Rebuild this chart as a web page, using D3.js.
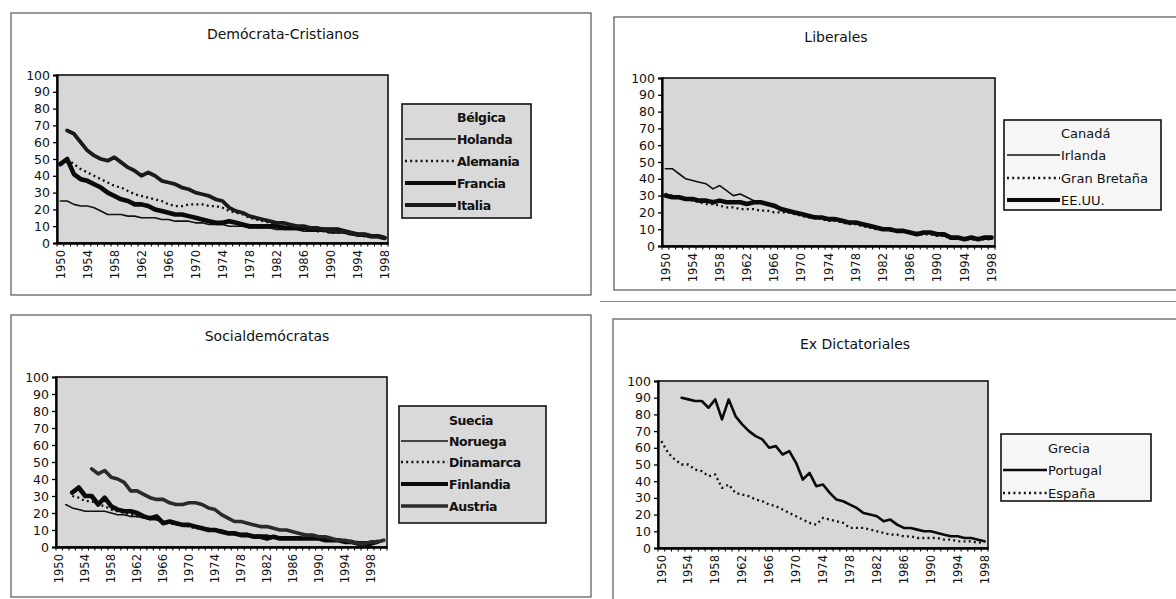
<!DOCTYPE html>
<html><head><meta charset="utf-8">
<script src="https://cdn.jsdelivr.net/npm/d3@7"></script>
<style>
body{margin:0;background:#fff}
svg{display:block}
text{font-family:"DejaVu Sans",sans-serif;fill:#111}
</style>
</head><body>
<svg id="c" width="1176" height="599"></svg>
<script>
// ---------- categories ----------
const years49 = [1950,1951,1952,1953,1954,1955,1956,1957,1958,1959,1960,1961,1962,1963,1964,1965,1966,1967,1968,1969,1970,1971,1972,1973,1974,1975,1976,1977,1978,1979,1980,1981,1982,1983,1984,1985,1986,1987,1988,1989,1990,1991,1992,1993,1994,1995,1996,1997,1998];
const years51 = [1950,1951,1952,1953,1954,1955,1956,1957,1958,1959,1960,1961,1962,1963,1964,1965,1966,1967,1968,1969,1970,1971,1972,1973,1974,1975,1976,1977,1978,1979,1980,1981,1982,1983,1984,1985,1986,1987,1988,1989,1990,1991,1992,1993,1994,1995,1996,1997,1998,1999,2000];
const yearLabels = [1950,1954,1958,1962,1966,1970,1974,1978,1982,1986,1990,1994,1998];
const yTicks = [0,10,20,30,40,50,60,70,80,90,100];

// ---------- Demócrata-Cristianos ----------
const holanda  = [25,25,23,22,22,21,19,17,17,17,16,16,15,15,15,14,14,13,13,13,12,12,11,11,11,10,10,10,9,9,9,9,8,8,8,8,7,7,7,7,6,6,6,5,5,4,4,4,3];
const alemania = [null,50,47,44,42,40,38,36,34,33,31,29,28,27,26,25,23,22,22,23,23,23,22,22,21,19,18,17,15,14,13,12,11,10,9,9,8,8,7,7,6,6,6,5,5,4,4,4,3];
const francia  = [47,50,41,38,37,35,33,30,28,26,25,23,23,22,20,19,18,17,17,16,15,14,13,12,12,13,12,11,10,10,10,10,10,9,9,9,9,8,8,8,8,8,7,6,5,5,4,4,3];
const italia   = [null,67,65,60,55,52,50,49,51,48,45,43,40,42,40,37,36,35,33,32,30,29,28,26,25,21,19,18,16,15,14,13,12,12,11,10,10,9,9,8,8,7,7,6,5,5,4,4,3];

// ---------- Liberales ----------
const irlanda     = [46,46,43,40,39,38,37,34,36,33,30,31,29,27,26,25,24,22,21,20,19,18,18,17,16,16,15,14,14,13,12,11,10,10,9,9,8,8,8,8,7,6,5,5,4,5,4,5,4];
const granBretana = [31,30,29,28,27,26,25,25,24,23,23,22,22,22,21,21,20,20,20,19,18,17,17,16,15,15,14,13,13,12,11,10,10,9,9,8,8,7,7,7,6,6,5,5,4,4,4,4,4];
const eeuu        = [30,29,29,28,28,27,27,26,27,26,26,26,25,26,26,25,24,22,21,20,19,18,17,17,16,16,15,14,14,13,12,11,10,10,9,9,8,7,8,8,7,7,5,5,4,5,4,5,5];

// ---------- Socialdemócratas ----------
const noruega   = [null,25,23,22,21,21,21,21,20,19,19,18,18,17,16,16,15,14,14,13,13,12,11,11,10,10,9,9,8,8,7,7,7,6,6,6,6,6,5,5,5,5,4,4,4,3,3,3,3,3,null];
const dinamarca = [null,null,30,29,27,27,25,24,22,21,20,19,18,18,17,16,15,14,13,13,12,11,11,10,10,9,8,8,7,7,6,6,6,6,5,5,5,5,5,5,5,4,4,4,3,3,3,2,2,3,null];
const finlandia = [null,null,32,35,30,30,25,29,24,22,21,21,20,18,17,18,14,15,14,13,13,12,11,10,10,9,8,8,7,7,6,6,5,6,5,5,5,5,5,5,5,4,4,4,3,3,2,2,2,3,null];
const austria   = [null,null,null,null,null,46,43,45,41,40,38,33,33,31,29,28,28,26,25,25,26,26,25,23,22,19,17,15,15,14,13,12,12,11,10,10,9,8,7,7,6,6,5,4,4,3,2,2,3,3,4];

// ---------- Ex Dictatoriales ----------
const portugal = [null,null,null,90,89,88,88,84,89,77,89,79,74,70,67,65,60,61,56,58,51,41,45,37,38,33,29,28,26,24,21,20,19,16,17,14,12,12,11,10,10,9,8,7,7,6,6,5,4];
const espana   = [64,57,53,50,50,47,46,43,44,36,38,33,32,31,29,28,26,25,23,21,19,17,15,14,18,17,16,15,12,12,12,11,10,9,8,8,7,7,6,6,6,6,5,5,4,4,4,3,4];

// ---------- styles ----------
const ST = {
  none:   {w:0},
  thin:   {w:1.6, c:"#111"},
  dotted: {w:2.3, c:"#111", dash:"2,3.2"},
  thick:  {w:4.6, c:"#0a0a0a"},
  medium: {w:3.8, c:"#1a1a1a"},
  grey:   {w:3.6, c:"#2a2a2a"},
  port:   {w:2.6, c:"#0a0a0a"}
};

const panels = [
  {title:"Demócrata-Cristianos", frame:[11,13,591,295], titleXY:[283,34],
   plot:[57,75,388,243], cats:years49, plotBg:"#d7d7d7",
   legend:{box:[402,104,531,218], sw:[405,456], rows:[117,139,161,183,205], bg:"#d9d9d9", bold:true, size:12.5},
   series:[["Bélgica",null,"none"],["Holanda",holanda,"thin"],["Alemania",alemania,"dotted"],["Francia",francia,"thick"],["Italia",italia,"medium"]]},
  {title:"Liberales", frame:[614,17,1200,290], titleXY:[836,37],
   plot:[662,78,995,246], cats:years49, plotBg:"#d7d7d7",
   legend:{box:[1004,120,1161,210], sw:[1007,1060], rows:[133,155,178,200], bg:"#f6f6f6", bold:false, size:13},
   series:[["Canadá",null,"none"],["Irlanda",irlanda,"thin"],["Gran Bretaña",granBretana,"dotted"],["EE.UU.",eeuu,"thick"]]},
  {title:"Socialdemócratas", frame:[11,315,591,597], titleXY:[267,336],
   plot:[56,377,387,547], cats:years51, plotBg:"#d7d7d7",
   legend:{box:[399,406,546,523], sw:[401,448], rows:[420,441,462,484,506], bg:"#d9d9d9", bold:true, size:12.5},
   series:[["Suecia",null,"none"],["Noruega",noruega,"thin"],["Dinamarca",dinamarca,"dotted"],["Finlandia",finlandia,"thick"],["Austria",austria,"grey"]]},
  {title:"Ex Dictatoriales", frame:[613,319,1200,640], titleXY:[855,344],
   plot:[658,381,988,548], cats:years49, plotBg:"#d7d7d7",
   legend:{box:[1001,434,1151,501], sw:[1003,1047], rows:[448,470,493], bg:"#f6f6f6", bold:false, size:13},
   series:[["Grecia",null,"none"],["Portugal",portugal,"port"],["España",espana,"dotted"]]}
];

const svg = d3.select("#c");

// faint scan edge above the lower-right panel
svg.append("line").attr("x1",600).attr("x2",1176).attr("y1",301.5).attr("y2",301.5)
  .attr("stroke","#888").attr("stroke-width",1.2);

panels.forEach(p => {
  const g = svg.append("g");
  const [fx0,fy0,fx1,fy1] = p.frame;
  g.append("rect").attr("x",fx0).attr("y",fy0).attr("width",fx1-fx0).attr("height",fy1-fy0)
    .attr("fill","#fff").attr("stroke","#555").attr("stroke-width",1.2);
  g.append("text").attr("x",p.titleXY[0]).attr("y",p.titleXY[1]).attr("text-anchor","middle")
    .attr("dominant-baseline","central").style("font-size","14px").text(p.title);

  const [px0,py0,px1,py1] = p.plot;
  const x = d3.scaleBand().domain(p.cats).range([px0,px1]).padding(0);
  const y = d3.scaleLinear().domain([0,100]).range([py1,py0]);
  const bw = x.bandwidth();

  g.append("rect").attr("x",px0).attr("y",py0).attr("width",px1-px0).attr("height",py1-py0)
    .attr("fill",p.plotBg).attr("stroke","#111").attr("stroke-width",1.6);

  // y axis
  const ya = g.append("g").attr("transform",`translate(${px0},0)`)
    .call(d3.axisLeft(y).tickValues(yTicks).tickSize(4).tickPadding(3));
  ya.select(".domain").attr("stroke","#000").attr("stroke-width",2.2);
  ya.selectAll(".tick line").attr("stroke","#000").attr("stroke-width",1.3);
  ya.selectAll("text").style("font-size","12.5px").style("font-family","DejaVu Sans").attr("fill","#111");

  // x axis with rotated labels at band centres
  const xa = g.append("g").attr("transform",`translate(0,${py1})`)
    .call(d3.axisBottom(x).tickValues(yearLabels).tickSize(0).tickPadding(0));
  xa.select(".domain").attr("stroke","#000").attr("stroke-width",2.4);
  xa.selectAll(".tick text").attr("transform","rotate(-90)").attr("text-anchor","end")
    .attr("x",-7).attr("y",0).attr("dy","0.36em").style("font-size","11.5px")
    .style("font-family","DejaVu Sans").attr("fill","#111");
  // minor tick marks at category boundaries
  g.append("g").selectAll("line").data(p.cats.concat([null])).join("line")
    .attr("x1",(d,i)=> i < p.cats.length ? x(d) : px1).attr("x2",(d,i)=> i < p.cats.length ? x(d) : px1)
    .attr("y1",py1).attr("y2",py1+3.5).attr("stroke","#000").attr("stroke-width",1.1);

  // series
  const line = d3.line().defined(d => d.v != null)
    .x(d => x(d.c) + bw/2).y(d => y(d.v)).curve(d3.curveLinear);
  p.series.forEach(([name, vals, sk]) => {
    if (!vals) return;
    const s = ST[sk];
    const pts = p.cats.map((c,i) => ({c, v: vals[i]}));
    g.append("path").datum(pts).attr("d",line).attr("fill","none")
      .attr("stroke",s.c).attr("stroke-width",s.w)
      .attr("stroke-dasharray",s.dash || null)
      .attr("stroke-linejoin","round").attr("stroke-linecap", s.dash ? "butt" : "round");
  });

  // legend
  const L = p.legend;
  const [lx0,ly0,lx1,ly1] = L.box;
  g.append("rect").attr("x",lx0).attr("y",ly0).attr("width",lx1-lx0).attr("height",ly1-ly0)
    .attr("fill",L.bg).attr("stroke","#111").attr("stroke-width",1.6);
  p.series.forEach(([name, vals, sk], i) => {
    const s = ST[sk];
    const cy = L.rows[i];
    if (s.w > 0) {
      g.append("line").attr("x1",L.sw[0]).attr("x2",L.sw[1]).attr("y1",cy).attr("y2",cy)
        .attr("stroke",s.c).attr("stroke-width",Math.min(s.w,4.2))
        .attr("stroke-dasharray",s.dash || null);
    }
    g.append("text").attr("x",L.sw[1]+1).attr("y",cy).attr("dominant-baseline","central")
      .style("font-size",L.size+"px").style("font-weight",L.bold?"bold":"normal")
      .style("letter-spacing", L.bold ? "-0.4px" : "0px")
      .text(name);
  });
});
</script>
</body></html>
